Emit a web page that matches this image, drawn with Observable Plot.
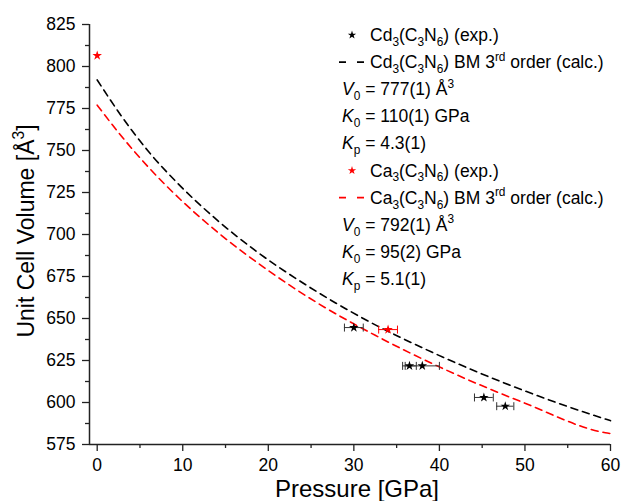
<!DOCTYPE html>
<html><head><meta charset="utf-8">
<script src="https://cdn.jsdelivr.net/npm/d3@7"></script>
<script src="https://cdn.jsdelivr.net/npm/@observablehq/plot@0.6"></script>
<style>body{margin:0;background:#fff}</style>
</head><body><div id="chart"></div>
<script>
// ---- data ----
// black stars: Cd3(C3N6) (exp.)
const cdExpPressure = [30.0, 36.5, 38.0, 45.2, 47.7];
const cdExpVolume   = [644.6, 621.8, 621.8, 603.0, 597.8];
const cdExpErrLo    = [28.9, 35.7, 36.0, 44.1, 46.7];
const cdExpErrHi    = [31.1, 37.3, 40.0, 46.3, 48.7];
// red stars: Ca3(C3N6) (exp.)
const caExpPressure = [0.0, 34.0];
const caExpVolume   = [806.5, 643.4];
const caExpErrLo    = [null, 32.9];
const caExpErrHi    = [null, 35.1];
// black dashed curve (upper)
const cdCalcPressure = [0, 2.9, 5.9, 9.5, 13.7, 18.6, 24.4, 31.1, 39.1, 48.4, 59.5, 60];
const cdCalcVolume   = [792, 770, 750, 730, 710, 690, 670, 650, 630, 610, 590, 589.2];
// red dashed curve (lower)
const caCalcPressure = [0, 2.6, 6.0, 9.9, 14.4, 19.6, 25.5, 32.5, 40.5, 49.8, 59.4, 60];
const caCalcVolume   = [777, 760, 740, 720, 700, 680, 660, 640, 620, 600, 582, 581.5];
// ticks
const xTicks = [0, 10, 20, 30, 40, 50, 60];
const xMinor = [5, 15, 25, 35, 45, 55];
const yTicks = [575, 600, 625, 650, 675, 700, 725, 750, 775, 800, 825];
const yMinor = [587.5, 612.5, 637.5, 662.5, 687.5, 712.5, 737.5, 762.5, 787.5, 812.5];

const cdExp = cdExpPressure.map((p, i) => ({p, v: cdExpVolume[i], lo: cdExpErrLo[i], hi: cdExpErrHi[i]}));
const caExp = caExpPressure.map((p, i) => ({p, v: caExpVolume[i], lo: caExpErrLo[i], hi: caExpErrHi[i]}));
const caErr = caExp.filter(d => d.lo != null);
const cdCalc = cdCalcPressure.map((p, i) => ({p, v: cdCalcVolume[i]}));
const caCalc = caCalcPressure.map((p, i) => ({p, v: caCalcVolume[i]}));

const cap = {draw(ctx, size) { const r = Math.sqrt(size / Math.PI); ctx.moveTo(0, -r); ctx.lineTo(0, r); }};
const FONT = "'Liberation Sans', Arial, sans-serif";
const RED = "#ff0000";
const xMin = -0.9;

const plot = Plot.plot({
  width: 621, height: 501,
  marginLeft: 89, marginRight: 11, marginTop: 24, marginBottom: 57,
  x: {domain: [xMin, 60], axis: null},
  y: {domain: [575, 825], axis: null},
  style: {fontFamily: FONT, fontSize: "17px", color: "#000", background: "#fff"},
  marks: [
    Plot.line(cdCalc, {x: "p", y: "v", stroke: "#000", strokeWidth: 1.6, strokeDasharray: "7,5", curve: "monotone-x"}),
    Plot.line(caCalc, {x: "p", y: "v", stroke: RED, strokeWidth: 1.6, strokeDasharray: "7,5", curve: "monotone-x"}),
    Plot.ruleY(cdExp, {y: "v", x1: "lo", x2: "hi", stroke: "#333", strokeWidth: 1}),
    Plot.dot(cdExp, {x: "lo", y: "v", symbol: cap, r: 4, fill: "none", stroke: "#333", strokeWidth: 1}),
    Plot.dot(cdExp, {x: "hi", y: "v", symbol: cap, r: 4, fill: "none", stroke: "#333", strokeWidth: 1}),
    Plot.ruleY(caErr, {y: "v", x1: "lo", x2: "hi", stroke: RED, strokeWidth: 1}),
    Plot.dot(caErr, {x: "lo", y: "v", symbol: cap, r: 4, fill: "none", stroke: RED, strokeWidth: 1}),
    Plot.dot(caErr, {x: "hi", y: "v", symbol: cap, r: 4, fill: "none", stroke: RED, strokeWidth: 1}),
    Plot.dot(cdExp, {x: "p", y: "v", symbol: "star", r: 3, fill: "#000", stroke: "none"}),
    Plot.dot(caExp, {x: "p", y: "v", symbol: "star", r: 3, fill: RED, stroke: "none"}),
    Plot.ruleY([575], {stroke: "#222", strokeWidth: 1.5}),
    Plot.ruleX([xMin], {stroke: "#222", strokeWidth: 1.5}),
    Plot.axisX(xTicks, {tickSize: 7, tickPadding: 7, fontSize: 17.5, label: null, stroke: "#222", strokeWidth: 1.3}),
    Plot.axisX(xMinor, {tickSize: 4, tickFormat: () => "", label: null, stroke: "#222", strokeWidth: 1.3}),
    Plot.axisY(yTicks, {tickSize: 7, tickPadding: 7, fontSize: 17.5, label: null, stroke: "#222", strokeWidth: 1.3}),
    Plot.axisY(yMinor, {tickSize: 4, tickFormat: () => "", label: null, stroke: "#222", strokeWidth: 1.3})
  ]
});
document.getElementById("chart").appendChild(plot);

const svg = d3.select(plot);
svg.selectAll('g[aria-label$="tick label"]').attr("font-size", 17.5);

// ---- rich text helper ----
function rich(sel, segs, base) {
  let shift = 0;
  for (const s of segs) {
    const [txt, kind, it] = s;
    let target = 0, size = base;
    if (kind === "sub") { target = base * 0.28; size = base * 0.68; }
    if (kind === "sup") { target = -base * 0.42; size = base * 0.68; }
    const ts = sel.append("tspan").attr("dy", target - shift).attr("font-size", size).text(txt);
    if (it) ts.attr("font-style", "italic");
    shift = target;
  }
}

const g = svg.append("g").attr("font-family", FONT).attr("fill", "#000").attr("text-anchor", "start");
const LF = 17.5;

const formula = (m) => [[m, "n"], ["3", "sub"], ["(C", "n"], ["3", "sub"], ["N", "n"], ["6", "sub"], [")", "n"]];
const rows = [
  {sym: "star", color: "#000", segs: [...formula("Cd"), [" (exp.)", "n"]]},
  {sym: "dash", color: "#000", segs: [...formula("Cd"), [" BM 3", "n"], ["rd", "sup"], [" order (calc.)", "n"]]},
  {segs: [["V", "n", true], ["0", "sub"], [" = 777(1) Å", "n"], ["3", "sup"]]},
  {segs: [["K", "n", true], ["0", "sub"], [" = 110(1) GPa", "n"]]},
  {segs: [["K", "n", true], ["p", "sub"], [" = 4.3(1)", "n"]]},
  {sym: "star", color: RED, segs: [...formula("Ca"), [" (exp.)", "n"]]},
  {sym: "dash", color: RED, segs: [...formula("Ca"), [" BM 3", "n"], ["rd", "sup"], [" order (calc.)", "n"]]},
  {segs: [["V", "n", true], ["0", "sub"], [" = 792(1) Å", "n"], ["3", "sup"]]},
  {segs: [["K", "n", true], ["0", "sub"], [" = 95(2) GPa", "n"]]},
  {segs: [["K", "n", true], ["p", "sub"], [" = 5.1(1)", "n"]]}
];
rows.forEach((r, i) => {
  const cy = 35 + i * 27.1;
  if (r.sym === "star") {
    g.append("path").attr("d", d3.symbol(d3.symbolStar, 22)()).attr("transform", `translate(352,${cy})`).attr("fill", r.color);
  } else if (r.sym === "dash") {
    g.append("line").attr("x1", 339).attr("x2", 364).attr("y1", cy).attr("y2", cy)
      .attr("stroke", r.color).attr("stroke-width", 1.6).attr("stroke-dasharray", "7,11");
  }
  const t = g.append("text").attr("x", r.sym ? 370 : 342).attr("y", cy + 6).attr("font-size", LF);
  rich(t, r.segs, LF);
});

// axis titles
svg.append("text").attr("x", 357).attr("y", 497).attr("text-anchor", "middle")
  .attr("font-family", FONT).attr("font-size", 24).attr("fill", "#000").text("Pressure [GPa]");
const yt = svg.append("text").attr("transform", "translate(34,231) rotate(-90)").attr("text-anchor", "middle")
  .attr("font-family", FONT).attr("font-size", 23).attr("fill", "#000");
rich(yt, [["Unit Cell Volume [Å", "n"], ["3", "sup"], ["]", "n"]], 23);
</script>
</body></html>
